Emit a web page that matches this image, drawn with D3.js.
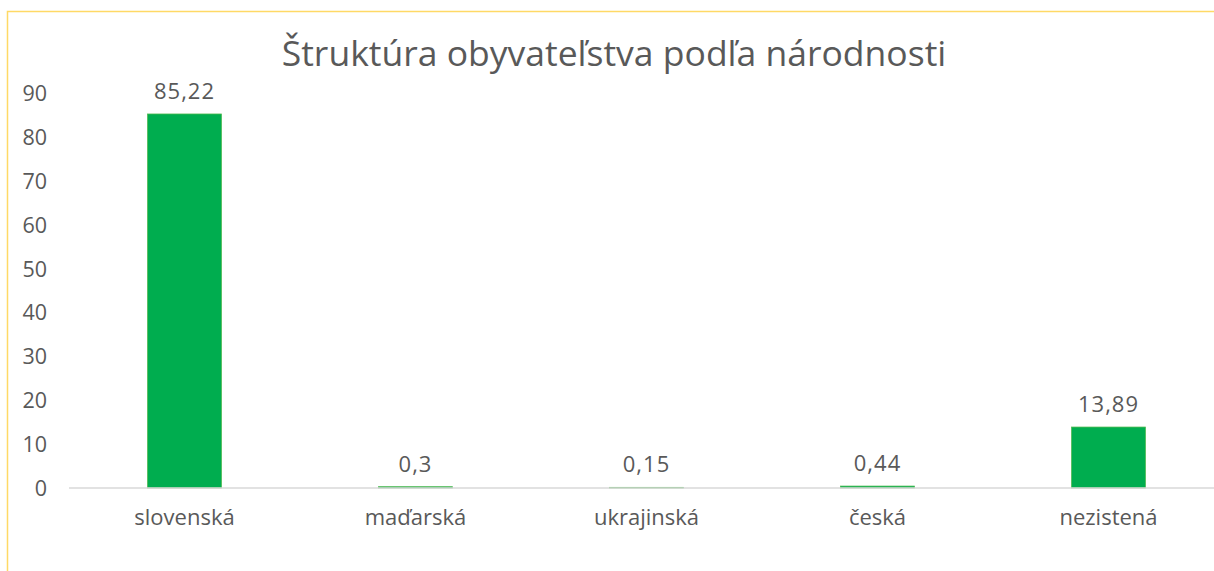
<!DOCTYPE html>
<html><head><meta charset="utf-8">
<script src="https://cdn.jsdelivr.net/npm/d3@7"></script>
<style>html,body{margin:0;padding:0;background:#fff;}</style>
</head><body>
<svg id="c" width="1214" height="571"></svg>
<script>
const categories = ["slovenská","maďarská","ukrajinská","česká","nezistená"];
const values = [85.22, 0.3, 0.15, 0.44, 13.89];
const valueLabels = ["85,22","0,3","0,15","0,44","13,89"];
const yTicks = [0,10,20,30,40,50,60,70,80,90];
const title = "Štruktúra obyvateľstva podľa národnosti";

const svg = d3.select("#c");
const font = "'Open Sans', sans-serif";
const textCol = "#595959";

svg.append("rect").attr("x",7.5).attr("y",11.5).attr("width",1400).attr("height",800)
  .attr("fill","#fff").attr("stroke","#FFD966").attr("stroke-width",1.5);

const x = d3.scaleBand().domain(categories).range([69, 1224]).paddingInner(0.68).paddingOuter(0.34);
const y = d3.scaleLinear().domain([0,90]).range([488, 93]);

svg.append("text").attr("x",614).attr("y",66).attr("text-anchor","middle")
  .attr("font-family",font).attr("font-size",35.5).attr("fill",textCol).text(title);

const yAxis = svg.append("g").attr("transform","translate(47,0)")
  .call(d3.axisLeft(y).tickValues(yTicks).tickSize(0).tickPadding(0));
yAxis.select(".domain").remove();
yAxis.selectAll("text").attr("font-family",font).attr("font-size",21.5).attr("fill",textCol).attr("dy","0.35em");

svg.selectAll("rect.bar").data(values).enter().append("rect").attr("class","bar")
  .attr("x",(d,i)=>x(categories[i])).attr("width",x.bandwidth())
  .attr("y",d=>y(d)).attr("height",d=>Math.max(0,y(0)-y(d)))
  .attr("fill","#00AD4F").attr("stroke","#4CB84C").attr("stroke-width",0.75);

const xAxis = svg.append("g").attr("transform","translate(0,488)")
  .call(d3.axisBottom(x).tickSize(0).tickPadding(21));
xAxis.select(".domain").attr("stroke","#d9d9d9").attr("stroke-width",1.5).attr("d","M69,0H1214");
xAxis.selectAll("text").attr("font-family",font).attr("font-size",22).attr("fill",textCol);

svg.selectAll("text.lbl").data(values).enter().append("text").attr("class","lbl")
  .attr("x",(d,i)=>x(categories[i])+x.bandwidth()/2).attr("y",d=>y(d)-15)
  .attr("text-anchor","middle").attr("font-family",font).attr("font-size",22).attr("fill",textCol)
  .attr("letter-spacing",1).text((d,i)=>valueLabels[i]);
</script>
</body></html>
